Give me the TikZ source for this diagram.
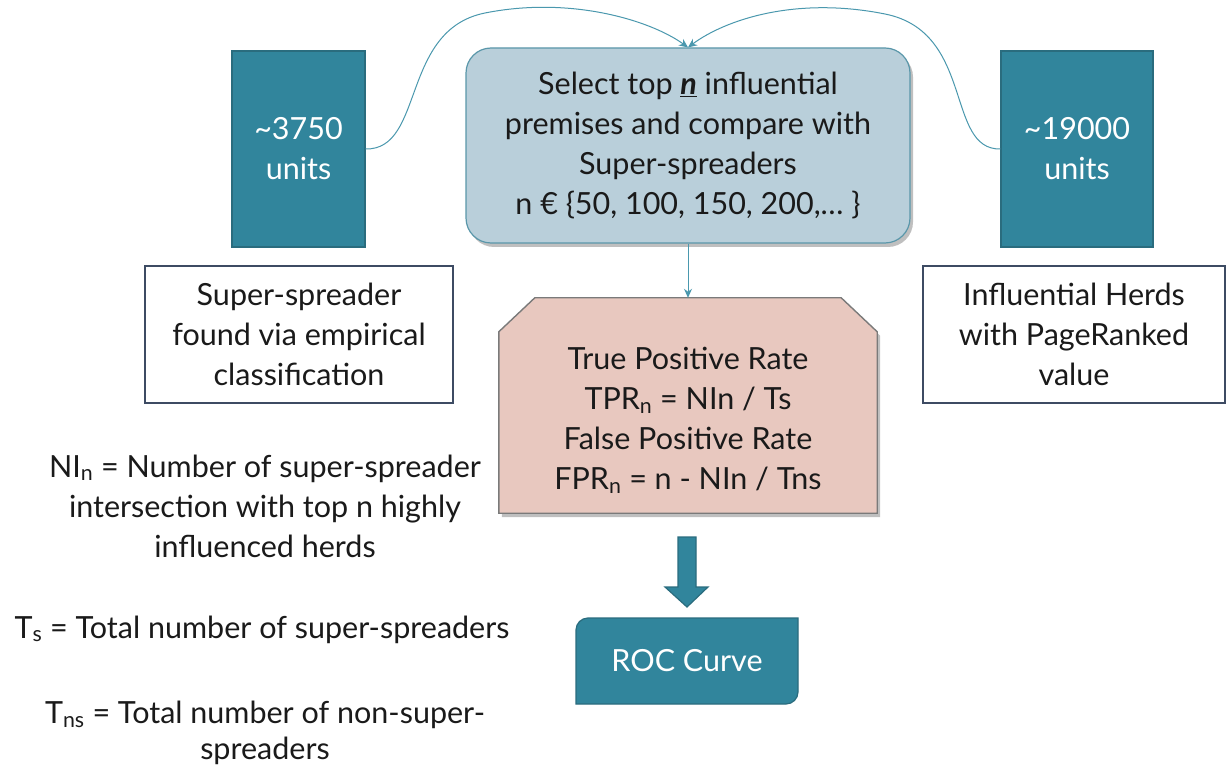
\documentclass[tikz,border=0pt]{standalone}
\usepackage{fontspec}
\setmainfont{Lato}
\usetikzlibrary{shadows,arrows.meta}
\definecolor{cTeal}{HTML}{31859C}
\definecolor{cTealEdge}{HTML}{2A6C7E}
\definecolor{cBlue}{HTML}{B9CFDA}
\definecolor{cBlueEdge}{HTML}{5A97AA}
\definecolor{cPink}{HTML}{E8C8BF}
\definecolor{cGrey}{HTML}{7A7A7A}
\definecolor{cSlate}{HTML}{3D4B63}
\definecolor{cConn}{HTML}{4A98AE}
\definecolor{cText}{HTML}{1A1A1A}
\begin{document}
\begin{tikzpicture}[x=1pt,y=-1pt,
  every node/.style={font=\fontsize{30.5}{40}\selectfont, align=center, inner sep=0pt, text=cText},
  tealbox/.style={fill=cTeal, draw=cTealEdge, line width=1.2pt, text=white},
  selbox/.style={fill=cBlue, draw=cBlueEdge, line width=1.2pt, rounded corners=25pt,
    drop shadow={shadow xshift=3pt, shadow yshift=-4pt, opacity=0.45, fill=black!55}},
  whitebox/.style={fill=white, draw=cSlate, line width=1.6pt},
  pinkshape/.style={fill=cPink, draw=cGrey, line width=1.4pt,
    drop shadow={shadow xshift=3pt, shadow yshift=-4pt, opacity=0.45, fill=black!55}},
  conn/.style={draw=cConn, line width=1pt, -{Stealth[length=9pt,width=8pt]}},
  blockarrow/.style={fill=cTeal, draw=cTealEdge, line width=1.2pt}
]
\useasboundingbox (0,0) rectangle (1227,767);
\fill[white] (0,0) rectangle (1227,767);

% top row
\node[tealbox, minimum width=133pt, minimum height=196pt] (lbox) at (298.5,149) {\textasciitilde 3750\\units};
\node[tealbox, minimum width=152pt, minimum height=196pt] (rbox) at (1077,149) {\textasciitilde 19000\\units};
\node[selbox, minimum width=444pt, minimum height=195pt] (sel) at (688,145.5)
  {Select top \underline{\textbf{\textit{n}}} influential\\premises and compare with\\Super-spreaders\\n € \{50, 100, 150, 200,… \}};

% description boxes
\node[whitebox, minimum width=308pt, minimum height=137pt] (ldesc) at (299,334.5)
  {Super-spreader\\found via empirical\\classification};
\node[whitebox, minimum width=302pt, minimum height=137pt] (rdesc) at (1074,334.5)
  {Influential Herds\\with PageRanked\\value};

% pink box
\node[minimum width=378pt, minimum height=215pt] (pink) at (688,405.5) {};
\path[pinkshape] ([xshift=36pt]pink.north west) -- ([xshift=-36pt]pink.north east)
  -- ([yshift=-34pt]pink.north east) -- (pink.south east) -- (pink.south west)
  -- ([yshift=-34pt]pink.north west) -- cycle;
\node (pinkt) at (688,420)
  {True Positive Rate\\TPR\textsubscript{n} = NIn / Ts\\False Positive Rate\\FPR\textsubscript{n} = n - NIn / Tns};

% block arrow
\filldraw[blockarrow] (678,537) -- (696,537) -- (696,587) -- (708,587) -- (687,607) -- (665,587) -- (678,587) -- cycle;

% ROC box
\filldraw[blockarrow] (576,630) .. controls (576,623.4) and (581.4,618) .. (588,618) -- (798,618) -- (798,692)
  .. controls (798,698.6) and (792.6,704) .. (786,704) -- (576,704) -- cycle;
\node[text=white] (roc) at (687,661) {ROC Curve};

% left notes
\node (ni) at (265,506) {NI\textsubscript{n} = Number of super-spreader\\intersection with top n highly\\influenced herds};
\node[anchor=base] (ts) at (262,638) {T\textsubscript{s} = Total number of super-spreaders};
\node[anchor=south, font=\fontsize{30.5}{36}\selectfont] (tns) at (265,765) {T\textsubscript{ns} = Total number of non-super-\\spreaders};

% connectors
\draw[conn] (lbox.east) .. controls (425,150) and (400,30) .. (485,13)
  .. controls (570,-4) and (650,20) .. (sel.north);
\draw[conn] (rbox.west) .. controls (945,150) and (975,32) .. (885,14)
  .. controls (795,-4) and (725,20) .. (sel.north);
\draw[conn] (sel.south) -- (pink.north);
\end{tikzpicture}
\end{document}
